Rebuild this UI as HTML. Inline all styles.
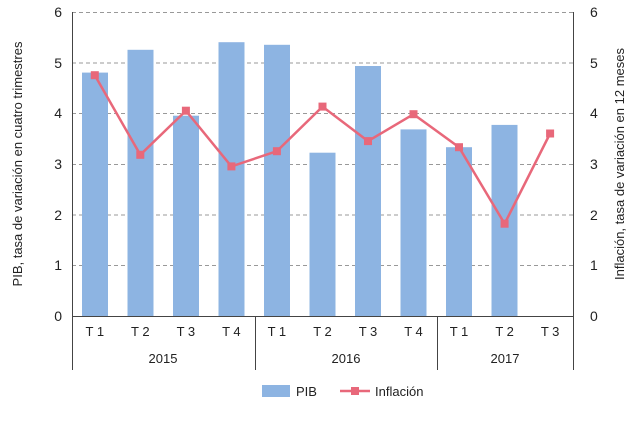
<!DOCTYPE html>
<html><head><meta charset="utf-8"><style>
body{margin:0;background:#fff;}
svg{display:block;font-family:"Liberation Sans",sans-serif;}
</style></head><body>
<svg width="640" height="427" viewBox="0 0 640 427">
<g stroke="#999" stroke-dasharray="4,3" stroke-width="1">
<line x1="72" x2="573" y1="12.5" y2="12.5"/>
<line x1="72" x2="573" y1="63" y2="63"/>
<line x1="72" x2="573" y1="113.5" y2="113.5"/>
<line x1="72" x2="573" y1="164.5" y2="164.5"/>
<line x1="72" x2="573" y1="215" y2="215"/>
<line x1="72" x2="573" y1="265.5" y2="265.5"/>
</g>
<g fill="#8db4e2">
<rect x="82" y="72.6" width="26" height="243.4"/>
<rect x="127.5" y="49.8" width="26" height="266.2"/>
<rect x="173" y="115.7" width="26" height="200.3"/>
<rect x="218.5" y="42.2" width="26" height="273.8"/>
<rect x="264" y="44.8" width="26" height="271.2"/>
<rect x="309.5" y="152.7" width="26" height="163.3"/>
<rect x="355" y="66" width="26" height="250"/>
<rect x="400.5" y="129.4" width="26" height="186.6"/>
<rect x="446" y="147.2" width="26" height="168.8"/>
<rect x="491.5" y="124.9" width="26" height="191.1"/>
</g>
<g stroke="#444" stroke-width="1" fill="none">
<line x1="72.5" y1="12" x2="72.5" y2="370"/>
<line x1="573.5" y1="12" x2="573.5" y2="370"/>
<line x1="72" y1="316.5" x2="573" y2="316.5"/>
<line x1="255.5" y1="316" x2="255.5" y2="370"/>
<line x1="437.5" y1="316" x2="437.5" y2="370"/>
</g>
<polyline fill="none" stroke="#e8687a" stroke-width="2.5" points="94.8,75.2 140.3,154.8 185.9,110.7 231.4,166.4 276.9,151.2 322.5,106.6 368,141.1 413.5,114.2 459,147.2 504.6,223.7 550.1,133.5"/>
<g fill="#e8687a">
<rect x="90.8" y="71.2" width="8" height="8"/><rect x="136.3" y="150.8" width="8" height="8"/><rect x="181.9" y="106.7" width="8" height="8"/><rect x="227.4" y="162.4" width="8" height="8"/><rect x="272.9" y="147.2" width="8" height="8"/><rect x="318.5" y="102.6" width="8" height="8"/><rect x="364" y="137.1" width="8" height="8"/><rect x="409.5" y="110.2" width="8" height="8"/><rect x="455" y="143.2" width="8" height="8"/><rect x="500.6" y="219.7" width="8" height="8"/><rect x="546.1" y="129.5" width="8" height="8"/>
</g>
<g font-size="14" fill="#222" text-anchor="end">
<text x="62" y="17">6</text><text x="62" y="68">5</text><text x="62" y="118">4</text><text x="62" y="169">3</text><text x="62" y="220">2</text><text x="62" y="270">1</text><text x="62" y="321">0</text>
</g>
<g font-size="14" fill="#222" text-anchor="start">
<text x="590" y="17">6</text><text x="590" y="68">5</text><text x="590" y="118">4</text><text x="590" y="169">3</text><text x="590" y="220">2</text><text x="590" y="270">1</text><text x="590" y="321">0</text>
</g>
<g font-size="13" fill="#222" text-anchor="middle">
<text x="94.8" y="336">T 1</text><text x="140.3" y="336">T 2</text><text x="185.9" y="336">T 3</text><text x="231.4" y="336">T 4</text><text x="276.9" y="336">T 1</text><text x="322.5" y="336">T 2</text><text x="368" y="336">T 3</text><text x="413.5" y="336">T 4</text><text x="459" y="336">T 1</text><text x="504.6" y="336">T 2</text><text x="550.1" y="336">T 3</text>
<text x="163" y="363">2015</text><text x="346" y="363">2016</text><text x="505" y="363">2017</text>
</g>
<text font-size="13" fill="#222" text-anchor="middle" transform="translate(22,164) rotate(-90)">PIB, tasa de variación en cuatro trimestres</text>
<text font-size="13" fill="#222" text-anchor="middle" transform="translate(624,164) rotate(-90)">Inflación, tasa de variación en 12 meses</text>
<rect x="262" y="385" width="28" height="12" fill="#8db4e2"/>
<text x="296" y="396" font-size="13" fill="#222">PIB</text>
<line x1="340" y1="391" x2="370" y2="391" stroke="#e8687a" stroke-width="2.5"/>
<rect x="351" y="387" width="8" height="8" fill="#e8687a"/>
<text x="375" y="396" font-size="13" fill="#222">Inflación</text>
</svg>
</body></html>
